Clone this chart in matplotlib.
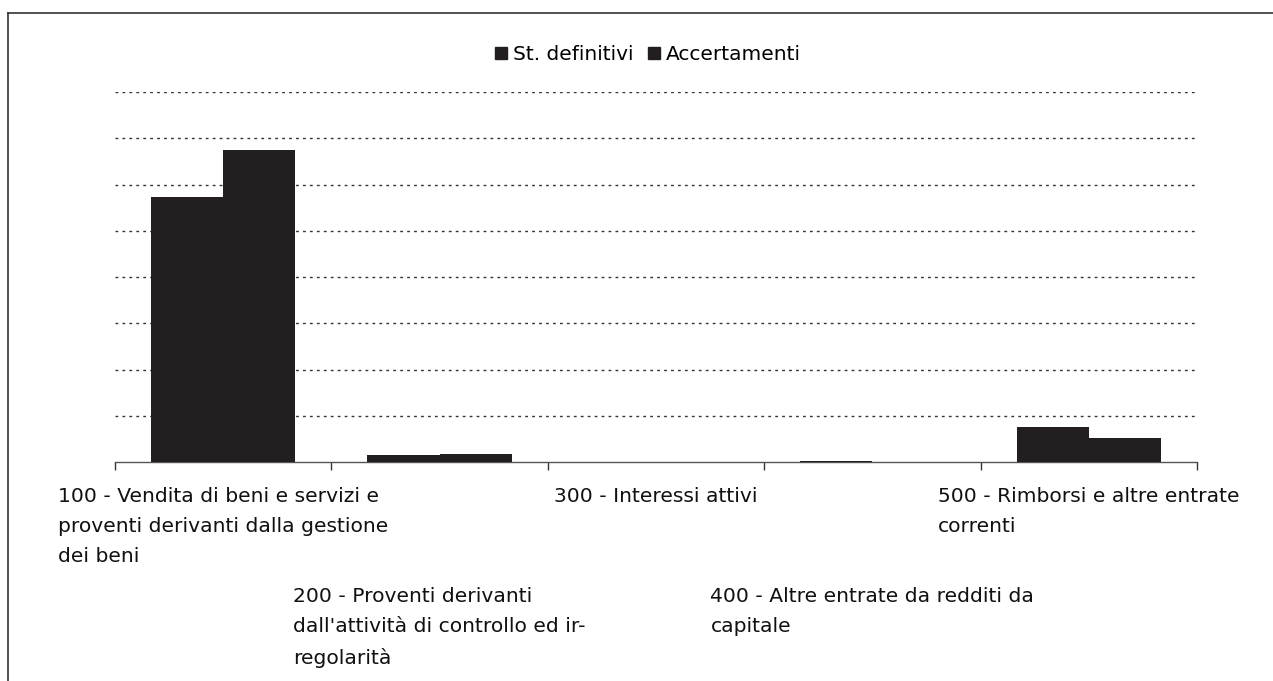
import matplotlib
matplotlib.use("Agg")
import matplotlib.pyplot as plt
import matplotlib.transforms as mtransforms
from matplotlib.lines import Line2D

# -----------------------------
# Data (in grid units)
# -----------------------------
categories = [
    "100 - Vendita di beni e servizi e\nproventi derivanti dalla gestione\ndei beni",
    "200 - Proventi derivanti\ndall'attività di controllo ed ir-\nregolarità",
    "300 - Interessi attivi",
    "400 - Altre entrate da redditi da\ncapitale",
    "500 - Rimborsi e altre entrate\ncorrenti",
]
st_definitivi = [5.74, 0.15, 0.0, 0.02, 0.76]
accertamenti = [6.75, 0.19, 0.0, 0.01, 0.52]
series_names = ["St. definitivi", "Accertamenti"]

bar_color = "#231f20"
W, H = 1273, 681

fig = plt.figure(figsize=(W / 100, H / 100), dpi=100)
ax = fig.add_axes([115 / W, 1 - 462.3 / H, (1197 - 115) / W, (462.3 - 92) / H])

x = list(range(len(categories)))
w = 1 / 3
ax.bar([i - w / 2 for i in x], st_definitivi, width=w, color=bar_color,
       label=series_names[0], zorder=3)
ax.bar([i + w / 2 for i in x], accertamenti, width=w, color=bar_color,
       label=series_names[1], zorder=3)

ax.set_xlim(-0.5, len(categories) - 0.5)
ax.set_ylim(0, 8)

# dotted gridlines
ax.set_yticks(range(1, 9))
ax.yaxis.grid(True, color="#333333", linestyle=(0, (2, 3)), linewidth=1.0)
ax.tick_params(axis="y", left=False, labelleft=False)

# category boundary ticks
ax.set_xticks([i - 0.5 for i in range(len(categories) + 1)])
ax.set_xticklabels([])
ax.tick_params(axis="x", direction="out", length=6, width=1, color="#333333")

for s in ["top", "right", "left"]:
    ax.spines[s].set_visible(False)
ax.spines["bottom"].set_color("#555555")
ax.spines["bottom"].set_linewidth(1.0)

# staggered category labels
trans = mtransforms.blended_transform_factory(ax.transData, fig.transFigure)
for i, lab in enumerate(categories):
    ytop = 487 if i % 2 == 0 else 587
    ax.text(i, 1 - ytop / H, lab, transform=trans, ha="center", va="top",
            multialignment="left", fontsize=14.6, linespacing=1.73,
            color="#111111")

# legend
handles = [Line2D([], [], marker="s", linestyle="none", markersize=9,
                  color=bar_color) for _ in series_names]
fig.legend(handles, series_names, loc="center",
           bbox_to_anchor=(647 / W, 1 - 55 / H), ncol=2, frameon=False,
           fontsize=14.5, handletextpad=0.2, columnspacing=0.6,
           handlelength=0.8)

# outer frame (left and top edges)
fig.add_artist(Line2D([8 / W, 8 / W], [0, 1 - 13 / H], color="#333333",
                      linewidth=1.2, transform=fig.transFigure))
fig.add_artist(Line2D([8 / W, 1], [1 - 13 / H, 1 - 13 / H], color="#333333",
                      linewidth=1.2, transform=fig.transFigure))

fig.savefig("out.png", dpi=100)
